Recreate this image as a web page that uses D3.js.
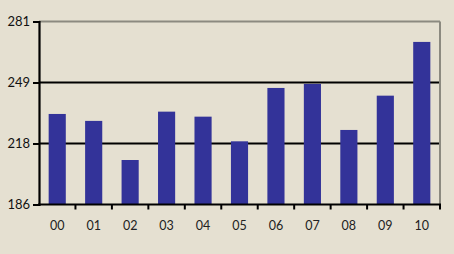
<!DOCTYPE html>
<html><head><meta charset="utf-8">
<script src="https://cdn.jsdelivr.net/npm/d3@7"></script>
<style>
html,body{margin:0;padding:0;background:#e5e0d1;}
svg{display:block;}
text{font-family:"Lato","DejaVu Sans",sans-serif;}
</style></head>
<body>
<svg id="c" width="454" height="254"></svg>
<script>
const categories = ["00","01","02","03","04","05","06","07","08","09","10"];
const values = [233, 229.4, 209.1, 234.2, 231.6, 218.8, 246.5, 248.6, 224.7, 242.5, 270.4];
const tickValues = [186, 217.67, 249.33, 281];
const tickLabels = ["186","218","249","281"];

(function(){
const svg = d3.select("#c");
const mL = 39, mR = 440, mT = 21.5, mB = 204.5;

const x = d3.scaleBand().domain(categories).range([mL, mR]).paddingInner(0.53).paddingOuter(0.265);
const xb = d3.scaleBand().domain(categories).range([mL, mR]);
const y = d3.scaleLinear().domain([186, 281]).range([mB, mT]);

// grid lines
svg.append("g").selectAll("line").data(tickValues.slice(1, 3)).join("line")
  .attr("x1", mL).attr("x2", mR)
  .attr("y1", d => y(d)).attr("y2", d => y(d))
  .attr("stroke", "#000").attr("stroke-width", 2);

// bars
svg.append("g").selectAll("rect").data(values).join("rect")
  .attr("x", (d, i) => x(categories[i]))
  .attr("width", x.bandwidth())
  .attr("y", d => y(d))
  .attr("height", d => y(186) - y(d))
  .attr("fill", "#333399");

// border top/right gray
svg.append("line").attr("x1", mL).attr("x2", mR).attr("y1", y(281)).attr("y2", y(281))
  .attr("stroke", "#8c8a80").attr("stroke-width", 2);
svg.append("line").attr("x1", mR).attr("x2", mR).attr("y1", y(281)).attr("y2", mB)
  .attr("stroke", "#8c8a80").attr("stroke-width", 2);

// y axis
const yAxis = svg.append("g").attr("transform", `translate(${mL},0)`)
  .call(d3.axisLeft(y).tickValues(tickValues).tickFormat((d, i) => tickLabels[i]).tickSize(6).tickPadding(3));
yAxis.select(".domain").attr("stroke", "#000").attr("stroke-width", 2.2);
yAxis.selectAll(".tick line").attr("stroke", "#000").attr("stroke-width", 2);
yAxis.selectAll("text").attr("font-size", 13).attr("fill", "#111").attr("font-family", "Lato, DejaVu Sans, sans-serif");

// x axis
const xAxis = svg.append("g").attr("transform", `translate(0,${mB})`)
  .call(d3.axisBottom(x).tickSize(0).tickPadding(17));
xAxis.select(".domain").remove();
xAxis.selectAll("text").attr("font-size", 12.5).attr("fill", "#222").attr("font-family", "Lato, DejaVu Sans, sans-serif");
svg.append("line").attr("x1", mL - 1).attr("x2", mR + 1).attr("y1", mB).attr("y2", mB)
  .attr("stroke", "#000").attr("stroke-width", 2.2);
// tick marks at category boundaries
const bounds = categories.slice(1).map(c => xb(c)).concat([mR]);
svg.append("g").selectAll("line").data(bounds).join("line")
  .attr("x1", d => d).attr("x2", d => d)
  .attr("y1", mB).attr("y2", mB + 5)
  .attr("stroke", "#000").attr("stroke-width", 2);
})();
</script>
</body></html>
